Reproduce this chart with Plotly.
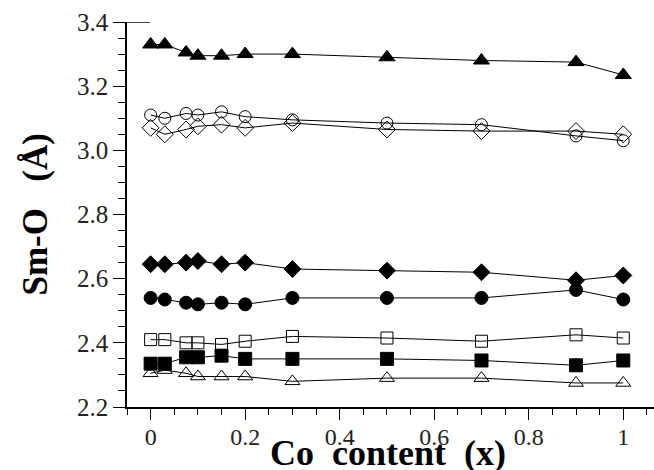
import plotly.graph_objects as go

x = [0, 0.03, 0.075, 0.1, 0.15, 0.2, 0.3, 0.5, 0.7, 0.9, 1.0]

tri_filled = [3.33, 3.33, 3.305, 3.295, 3.295, 3.30, 3.30, 3.29, 3.28, 3.275, 3.235]
circ_open = [3.11, 3.10, 3.115, 3.11, 3.12, 3.105, 3.095, 3.085, 3.08, 3.045, 3.03]
diam_open = [3.07, 3.05, 3.065, 3.075, 3.08, 3.07, 3.085, 3.065, 3.06, 3.06, 3.05]
diam_filled = [2.645, 2.645, 2.65, 2.655, 2.645, 2.65, 2.63, 2.625, 2.62, 2.595, 2.61]
circ_filled = [2.54, 2.535, 2.525, 2.52, 2.525, 2.52, 2.54, 2.54, 2.54, 2.565, 2.535]
sq_open = [2.41, 2.41, 2.40, 2.40, 2.395, 2.405, 2.42, 2.415, 2.405, 2.425, 2.415]
sq_filled = [2.335, 2.335, 2.355, 2.355, 2.36, 2.35, 2.35, 2.35, 2.345, 2.33, 2.345]
tri_open = [2.305, 2.315, 2.305, 2.295, 2.295, 2.295, 2.28, 2.29, 2.29, 2.275, 2.275]

x_tickvals = [0, 0.2, 0.4, 0.6, 0.8, 1.0]
x_ticktext = ["0", "0.2", "0.4", "0.6", "0.8", "1"]

series = [
    (tri_filled, "triangle-up", 14),
    (circ_open, "circle-open", 12),
    (diam_open, "diamond-open", 13),
    (diam_filled, "diamond", 13),
    (circ_filled, "circle", 13),
    (sq_open, "square-open", 12),
    (sq_filled, "square", 13),
    (tri_open, "triangle-up-open", 13),
]

fig = go.Figure()
for ys, sym, sz in series:
    fig.add_trace(go.Scatter(
        x=x, y=ys, mode="lines+markers",
        line=dict(color="black", width=1),
        marker=dict(symbol=sym, size=sz, color="black",
                    line=dict(color="black", width=1)),
        showlegend=False, cliponaxis=False,
    ))

font_family = "Liberation Serif, Times New Roman, serif"
fig.update_layout(
    width=654, height=470,
    margin=dict(l=127, r=0, t=22, b=63),
    plot_bgcolor="white", paper_bgcolor="white",
    font=dict(family=font_family, color="black", size=24),
)
fig.update_xaxes(
    range=[-0.05, 1.065], showgrid=False, zeroline=False,
    showline=True, linecolor="black", linewidth=1.5,
    ticks="outside", ticklen=11, tickwidth=1, tickcolor="black",
    tickvals=x_tickvals, ticktext=x_ticktext, ticklabelstandoff=-4,
    minor=dict(dtick=0.05, tick0=0, ticks="outside", ticklen=6, tickcolor="black"),
    tickfont=dict(size=24, family=font_family, color="#222"),
)
fig.update_yaxes(
    range=[2.2, 3.4], showgrid=False, zeroline=False,
    showline=True, linecolor="black", linewidth=1.5,
    ticks="outside", ticklen=12, tickwidth=1, tickcolor="black",
    dtick=0.2, tick0=2.2, tickformat=".1f",
    minor=dict(dtick=0.05, tick0=2.2, ticks="outside", ticklen=7, tickcolor="black"),
    tickfont=dict(size=25, family=font_family, color="#222"),
)
fig.add_shape(type="line", xref="paper", yref="y", x0=-0.027, x1=0.044,
              y0=3.4, y1=3.4, line=dict(color="black", width=1.5))
fig.add_annotation(
    text="<b>Co\u00a0 content\u00a0 (x)</b>", xref="paper", yref="paper",
    x=0.495, y=0, yshift=-46, xanchor="center", yanchor="middle",
    showarrow=False, font=dict(size=36, family=font_family),
)
fig.add_annotation(
    text="<b>Sm-O\u00a0\u00a0 (Å)</b>", xref="paper", yref="paper",
    x=0, xshift=-92, y=0.5, xanchor="center", yanchor="middle",
    textangle=-90, showarrow=False, font=dict(size=35, family=font_family),
)
fig.write_html("out.html")
